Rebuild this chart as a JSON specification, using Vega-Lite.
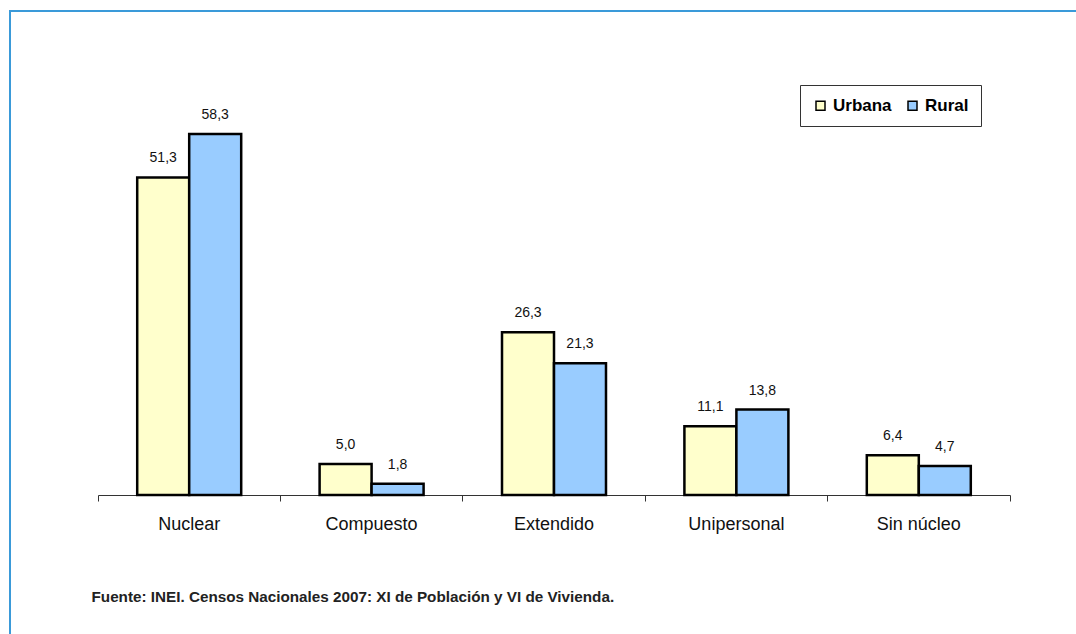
{
  "$schema": "https://vega.github.io/schema/vega-lite/v6.json",
  "width": 1070,
  "height": 630,
  "padding": {"left": 10, "top": 11, "right": 0, "bottom": 0},
  "autosize": {"type": "pad"},
  "background": "white",
  "config": {
    "view": {"stroke": "#3A9AD9", "strokeWidth": 2},
    "font": "Liberation Sans",
    "locale": {"number": {"decimal": ",", "thousands": ".", "grouping": [3], "currency": ["", ""]}}
  },
  "data": {
    "values": [
      {"tipo": "Nuclear", "area": "Urbana", "pct": 51.3},
      {"tipo": "Nuclear", "area": "Rural", "pct": 58.3},
      {"tipo": "Compuesto", "area": "Urbana", "pct": 5.0},
      {"tipo": "Compuesto", "area": "Rural", "pct": 1.8},
      {"tipo": "Extendido", "area": "Urbana", "pct": 26.3},
      {"tipo": "Extendido", "area": "Rural", "pct": 21.3},
      {"tipo": "Unipersonal", "area": "Urbana", "pct": 11.1},
      {"tipo": "Unipersonal", "area": "Rural", "pct": 13.8},
      {"tipo": "Sin núcleo", "area": "Urbana", "pct": 6.4},
      {"tipo": "Sin núcleo", "area": "Rural", "pct": 4.7}
    ]
  },
  "encoding": {
    "x": {
      "field": "tipo",
      "type": "nominal",
      "sort": ["Nuclear", "Compuesto", "Extendido", "Unipersonal", "Sin núcleo"],
      "scale": {"range": [88, 1000], "paddingInner": 0, "paddingOuter": 0},
      "axis": {
        "title": "Fuente: INEI. Censos Nacionales 2007: XI de Población y  VI de Vivienda.",
        "titleX": 81,
        "titleY": 106.7,
        "titleAlign": "left",
        "titleBaseline": "alphabetic",
        "titleFont": "Liberation Sans",
        "titleFontSize": 15.25,
        "titleFontWeight": "bold",
        "titleColor": "#222222",
        "offset": -146,
        "labelAngle": 0,
        "labelFontSize": 18,
        "labelColor": "#111111",
        "labelPadding": 14,
        "domainColor": "#333333",
        "domainWidth": 1,
        "ticks": true,
        "tickColor": "#333333",
        "tickWidth": 1,
        "tickSize": 6,
        "bandPosition": 1,
        "tickExtra": true,
        "grid": false
      }
    },
    "xOffset": {"field": "area", "sort": ["Urbana", "Rural"], "scale": {"paddingInner": 0, "paddingOuter": 0.754}},
    "y": {"field": "pct", "type": "quantitative", "scale": {"domain": [-23.59, 78.19], "nice": false, "zero": false}, "axis": null}
  },
  "layer": [
    {
      "mark": {"type": "bar", "stroke": "black", "strokeWidth": 2.5},
      "encoding": {
        "y2": {"datum": 0},
        "color": {
          "field": "area",
          "type": "nominal",
          "sort": ["Urbana", "Rural"],
          "scale": {"domain": ["Urbana", "Rural"], "range": ["#FFFFCC", "#99CCFF"]},
          "legend": {
            "title": null,
            "orient": "none",
            "legendX": 790,
            "legendY": 74,
            "direction": "horizontal",
            "fillColor": "white",
            "strokeColor": "#333333",
            "padding": 12,
            "symbolType": "square",
            "symbolSize": 81,
            "symbolStrokeColor": "black",
            "symbolStrokeWidth": 1.5,
            "symbolOpacity": 1,
            "labelFontSize": 17,
            "labelFontWeight": "bold",
            "labelColor": "black",
            "labelOffset": 4,
            "columnPadding": 12
          }
        }
      }
    },
    {
      "mark": {"type": "text", "dy": -15, "baseline": "alphabetic", "fontSize": 14, "color": "#111111"},
      "encoding": {"text": {"field": "pct", "type": "quantitative", "format": ".1f"}}
    }
  ]
}
